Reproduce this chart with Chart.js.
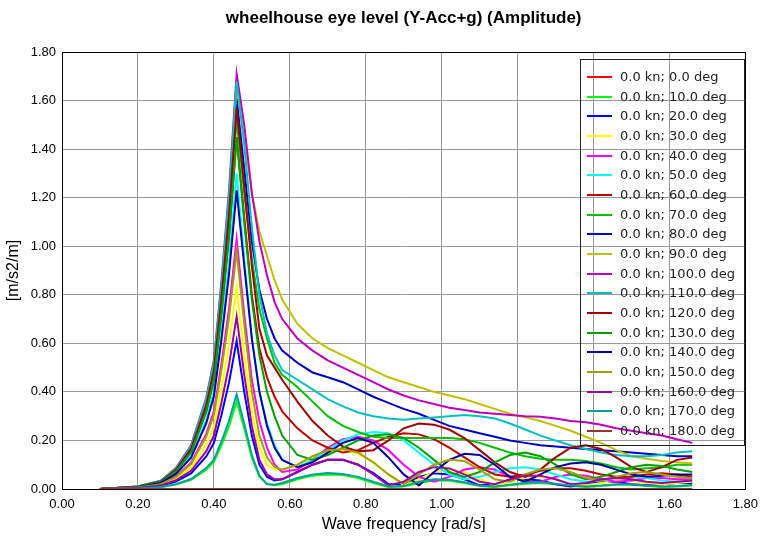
<!DOCTYPE html>
<html>
<head>
<meta charset="utf-8">
<script src="https://cdn.jsdelivr.net/npm/chart.js@4.4.1/dist/chart.umd.min.js"></script>
<style>
body{margin:0;background:#fff;}
#wrap{position:relative;width:766px;height:541px;}
#legend{position:absolute;left:580px;top:59px;width:165px;height:387px;border:1px solid #222;
font-family:'DejaVu Sans',sans-serif;font-size:13px;color:#222;box-sizing:border-box;padding-top:7px;}
.row{height:19.67px;line-height:19.67px;position:relative;white-space:nowrap;}
.row span.ln{position:absolute;left:6px;top:9px;width:25px;height:2px;}
.row span.tx{position:absolute;left:39px;}
</style>
</head>
<body>
<div id="wrap">
<canvas id="chart" width="766" height="541"></canvas>
<div id="legend"></div>
</div>
<script>
// wave frequencies [rad/s]
const freqs = [0.10,0.20,0.26,0.30,0.34,0.38,0.40,0.42,0.44,0.46,0.48,0.50,0.52,0.54,0.56,0.58,
0.62,0.66,0.70,0.74,0.78,0.82,0.86,0.90,0.94,0.98,1.02,1.06,1.10,1.14,1.18,1.22,1.26,1.30,1.34,1.38,1.42,1.46,1.50,1.54,1.58,1.62,1.66];

const speed = 0.0;
const headings = [0,10,20,30,40,50,60,70,80,90,100,110,120,130,140,150,160,170,180];

// amplitudes [m/s2/m] per heading
const deg0 = [0,0,0,0,0,0,0,0,0,0,0,0,0,0,0,0,0,0,0,0,0,0,0,0,0,0,0,0,0,0,0,0,0,0,0,0,0,0,0,0,0,0,0];
const deg10 = [0,0.002,0.007,0.018,0.038,0.079,0.112,0.18,0.259,0.36,0.25,0.13,0.05,0.02,0.015,0.02,
0.04,0.055,0.06,0.058,0.045,0.025,0.008,0.01,0.025,0.035,0.035,0.025,0.012,0.008,0.015,0.022,0.025,0.02,0.012,0.008,0.012,0.018,0.018,0.012,0.008,0.01,0.014];
const deg20 = [0,0.004,0.012,0.031,0.064,0.134,0.189,0.305,0.439,0.61,0.40,0.22,0.10,0.05,0.035,0.04,
0.07,0.10,0.12,0.12,0.10,0.065,0.02,0.02,0.05,0.065,0.06,0.04,0.015,0.02,0.035,0.04,0.035,0.02,0.01,0.02,0.03,0.03,0.02,0.015,0.02,0.025,0.025];
const deg30 = [0,0.005,0.017,0.042,0.087,0.183,0.257,0.415,0.598,0.83,0.55,0.32,0.17,0.10,0.08,0.08,
0.10,0.13,0.155,0.16,0.145,0.11,0.06,0.015,0.04,0.07,0.08,0.07,0.04,0.015,0.03,0.045,0.05,0.04,0.02,0.015,0.025,0.035,0.035,0.025,0.02,0.025,0.03];
const deg40 = [0,0.006,0.021,0.052,0.108,0.227,0.319,0.515,0.742,1.03,0.72,0.45,0.28,0.17,0.10,0.07,
0.08,0.12,0.17,0.205,0.215,0.20,0.16,0.10,0.05,0.03,0.05,0.08,0.09,0.08,0.05,0.03,0.03,0.05,0.06,0.055,0.04,0.03,0.035,0.045,0.045,0.04,0.04];
const deg50 = [0,0.008,0.026,0.065,0.137,0.286,0.403,0.65,0.936,1.30,0.95,0.62,0.40,0.27,0.18,0.12,
0.09,0.12,0.16,0.20,0.225,0.235,0.23,0.20,0.15,0.10,0.06,0.04,0.05,0.07,0.085,0.09,0.08,0.06,0.04,0.03,0.035,0.045,0.05,0.045,0.035,0.03,0.035];
const deg60 = [0,0.009,0.029,0.073,0.152,0.319,0.45,0.725,1.044,1.45,1.12,0.80,0.58,0.46,0.38,0.32,
0.25,0.20,0.17,0.15,0.16,0.19,0.215,0.23,0.225,0.205,0.17,0.13,0.09,0.06,0.05,0.06,0.075,0.085,0.085,0.075,0.06,0.05,0.05,0.06,0.065,0.06,0.05];
const deg70 = [0,0.009,0.03,0.076,0.16,0.334,0.471,0.76,1.094,1.52,1.22,0.95,0.74,0.62,0.52,0.47,
0.42,0.36,0.30,0.26,0.235,0.215,0.21,0.21,0.21,0.21,0.21,0.205,0.19,0.17,0.15,0.135,0.125,0.12,0.12,0.115,0.105,0.09,0.08,0.085,0.09,0.10,0.10];
const deg80 = [0,0.01,0.032,0.081,0.169,0.354,0.499,0.805,1.159,1.61,1.32,1.02,0.82,0.70,0.62,0.57,
0.52,0.48,0.46,0.44,0.41,0.38,0.355,0.33,0.31,0.285,0.26,0.245,0.23,0.215,0.20,0.19,0.18,0.175,0.17,0.165,0.16,0.155,0.15,0.145,0.14,0.135,0.135];
const deg90 = [0,0.01,0.033,0.083,0.174,0.365,0.515,0.83,1.195,1.66,1.45,1.22,1.06,0.96,0.86,0.78,
0.68,0.62,0.58,0.55,0.52,0.49,0.46,0.44,0.42,0.40,0.385,0.37,0.35,0.33,0.31,0.295,0.28,0.26,0.24,0.215,0.19,0.16,0.135,0.125,0.115,0.11,0.105];
const deg100 = [0,0.01,0.034,0.086,0.18,0.376,0.53,0.855,1.231,1.71,1.50,1.22,1.02,0.88,0.77,0.70,
0.62,0.57,0.53,0.50,0.47,0.44,0.41,0.385,0.365,0.35,0.335,0.325,0.315,0.31,0.305,0.30,0.298,0.29,0.28,0.275,0.265,0.25,0.24,0.23,0.22,0.205,0.19];
const deg110 = [0,0.01,0.034,0.084,0.176,0.37,0.521,0.84,1.21,1.68,1.42,1.08,0.80,0.64,0.55,0.49,
0.45,0.41,0.37,0.34,0.315,0.30,0.29,0.285,0.29,0.295,0.30,0.305,0.30,0.29,0.27,0.245,0.22,0.20,0.18,0.165,0.15,0.14,0.135,0.135,0.14,0.15,0.155];
const deg120 = [0,0.009,0.031,0.079,0.165,0.345,0.487,0.785,1.13,1.57,1.25,0.92,0.66,0.55,0.50,0.45,
0.36,0.28,0.22,0.175,0.155,0.16,0.20,0.25,0.27,0.265,0.245,0.21,0.16,0.11,0.07,0.05,0.08,0.13,0.17,0.18,0.165,0.13,0.09,0.07,0.09,0.12,0.13];
const deg130 = [0,0.009,0.029,0.073,0.152,0.319,0.45,0.725,1.044,1.45,1.10,0.78,0.55,0.40,0.30,0.22,
0.14,0.12,0.14,0.17,0.20,0.22,0.225,0.21,0.17,0.12,0.07,0.05,0.07,0.11,0.14,0.15,0.135,0.10,0.06,0.04,0.05,0.07,0.09,0.10,0.095,0.08,0.07];
const deg140 = [0,0.007,0.025,0.062,0.129,0.271,0.381,0.615,0.886,1.23,0.92,0.62,0.40,0.26,0.17,0.12,
0.09,0.11,0.15,0.19,0.21,0.19,0.13,0.06,0.015,0.07,0.12,0.145,0.14,0.10,0.05,0.03,0.06,0.09,0.105,0.11,0.10,0.08,0.06,0.05,0.055,0.06,0.06];
const deg150 = [0,0.006,0.02,0.049,0.103,0.216,0.304,0.49,0.706,0.98,0.68,0.40,0.22,0.13,0.09,0.08,
0.10,0.135,0.16,0.165,0.15,0.11,0.06,0.02,0.06,0.10,0.12,0.115,0.08,0.04,0.03,0.06,0.08,0.085,0.07,0.045,0.035,0.05,0.065,0.07,0.06,0.05,0.045];
const deg160 = [0,0.004,0.014,0.036,0.075,0.156,0.22,0.355,0.511,0.71,0.47,0.26,0.12,0.06,0.04,0.04,
0.07,0.10,0.12,0.12,0.10,0.06,0.015,0.03,0.07,0.09,0.085,0.06,0.03,0.02,0.04,0.055,0.055,0.04,0.02,0.025,0.04,0.045,0.04,0.03,0.025,0.03,0.035];
const deg170 = [0,0.002,0.008,0.02,0.041,0.086,0.121,0.195,0.281,0.39,0.27,0.14,0.055,0.02,0.018,0.025,
0.045,0.06,0.066,0.062,0.05,0.03,0.01,0.012,0.03,0.04,0.038,0.028,0.014,0.01,0.018,0.026,0.028,0.022,0.014,0.01,0.014,0.02,0.02,0.014,0.01,0.012,0.016];
const deg180 = [0,0,0,0,0,0,0,0,0,0,0,0,0,0,0,0,0,0,0,0,0,0,0,0,0,0,0,0,0,0,0,0,0,0,0,0,0,0,0,0,0,0,0];

const series = [deg0,deg10,deg20,deg30,deg40,deg50,deg60,deg70,deg80,deg90,
deg100,deg110,deg120,deg130,deg140,deg150,deg160,deg170,deg180];

const colors = ["#ff0000","#00ff00","#0000ff","#ffff00","#ff00ff","#00ffff",
"#c00000","#00c000","#0000c0","#c0c000","#c000c0","#00c0c0",
"#a00000","#00a000","#0000a0","#a0a000","#a000a0","#00a0a0","#993333"];

const axisTicks = [0,0.2,0.4,0.6,0.8,1.0,1.2,1.4,1.6,1.8];

const sans = "'Liberation Sans',Arial,sans-serif";
const labels = headings.map(h => speed.toFixed(1)+" kn; "+h.toFixed(1)+" deg");

function edge(c){ return Math.abs(c.tick.value-1.8)<1e-6 ? "#000" : "#999"; }

// CHART
const ctx = document.getElementById("chart").getContext("2d");
const chart = new Chart(ctx,{
type:"line",
data:{
datasets: series.map((vals,i)=>({
label: labels[i],
data: freqs.map((f,j)=>({x:f,y:vals[j]})),
borderColor: colors[i],
borderWidth: 2,
pointRadius: 0,
fill: false,
tension: 0,
order: series.length-i
}))
},
options:{
responsive:false,
animation:false,
layout:{padding:{left:0,right:18,top:0,bottom:0}},
plugins:{
legend:{display:false},
tooltip:{enabled:false},
title:{display:true,text:"wheelhouse eye level (Y-Acc+g) (Amplitude)",fullSize:false,color:"#000",
font:{family:sans,size:17,weight:"bold"},padding:{top:8,bottom:23.6}}
},
scales:{
x:{
type:"linear",min:0,max:1.8,
afterBuildTicks: s => { s.ticks = axisTicks.map(v=>({value:v})); },
afterFit: s => { s.height = 52; },
ticks:{callback:v=>v.toFixed(2),padding:8,color:"#000",maxRotation:0,autoSkip:false,font:{family:sans,size:13}},
grid:{color:edge,drawTicks:false,lineWidth:1},
border:{color:"#000",width:1},
title:{display:true,text:"Wave frequency [rad/s]",color:"#000",font:{family:sans,size:16},padding:{top:0,bottom:7}}
},
y:{
min:0,max:1.8,
afterBuildTicks: s => { s.ticks = axisTicks.map(v=>({value:v})); },
afterFit: s => { s.width = 62; },
ticks:{callback:v=>v.toFixed(2),padding:6,color:"#000",font:{family:sans,size:13}},
grid:{color:edge,drawTicks:false,lineWidth:1},
border:{color:"#000",width:1},
title:{display:true,text:"[m/s2/m]",color:"#000",font:{family:sans,size:16},padding:{top:4,bottom:0}}
}
}
}
});

// LEGEND
const lg = document.getElementById("legend");
labels.forEach((t,i)=>{
const r = document.createElement("div");
r.className = "row";
r.innerHTML = '<span class="ln" style="background:'+colors[i]+'"></span><span class="tx">'+t+'</span>';
lg.appendChild(r);
});
</script>
</body>
</html>
